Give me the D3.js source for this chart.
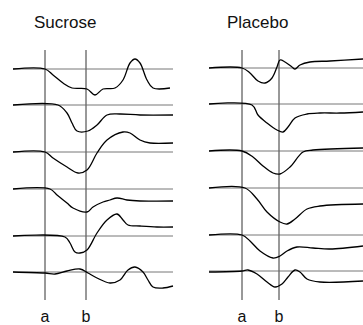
<!DOCTYPE html>
<html>
<head>
<meta charset="utf-8">
<script src="https://cdn.jsdelivr.net/npm/d3@7"></script>
<style>
  html, body { margin: 0; padding: 0; background: #fff; }
  svg { display: block; }
</style>
</head>
<body>
<script>
// ---------------- DATA ----------------
const panelTitles = ["Sucrose", "Placebo"];
const markerLabels = ["a", "b"];
// marker times (ms) for each panel
const sucroseMarkers = [160, 365];
const placeboMarkers = [165, 350];
// time span of each panel (ms)
const sucroseSpan = [0, 800];
const placeboSpan = [0, 770];

// traces: [time ms, deflection] pairs, deflection positive = up
const sucroseTraces = [
  [[0,0],[160,0],[200,-6],[250,-14],[295,-19],[370,-20],[410,-26],[450,-20],[510,-19],[550,-11],[585,6],[610,10],[635,6],[670,-11],[700,-19],[785,-19]],
  [[0,0],[225,0],[270,-8],[295,-18],[320,-26],[375,-26],[420,-20],[470,-10],[535,-9],[635,-10],[800,-10]],
  [[0,0],[160,0],[200,-6],[270,-15],[325,-21],[370,-18],[420,-1],[470,12],[550,20],[585,19],[635,12],[685,9],[800,9]],
  [[0,0],[185,0],[220,-6],[270,-14],[300,-19],[370,-23],[400,-18],[450,-13],[485,-11],[520,-9],[570,-11],[635,-12],[800,-12]],
  [[0,0],[260,-1],[285,-7],[310,-16],[335,-17],[370,-14],[420,3],[470,16],[520,22],[550,16],[575,11],[635,10],[720,9],[800,9]],
  [[0,0],[160,-1],[210,-2],[270,1],[335,3],[375,-1],[420,-6],[485,-11],[535,-8],[575,2],[610,5],[650,0],[675,-8],[700,-15],[750,-16],[800,-14]]
];
const placeboTraces = [
  [[0,0],[165,0],[205,-5],[245,-13],[280,-15],[315,-10],[340,1],[355,8],[380,6],[415,1],[430,-1],[455,3],[505,6],[605,7],[770,9]],
  [[0,0],[215,-1],[245,-11],[290,-19],[340,-26],[370,-28],[395,-23],[430,-14],[490,-10],[555,-9],[655,-9],[770,-8]],
  [[0,0],[165,0],[220,-6],[270,-15],[320,-22],[355,-23],[405,-16],[470,-1],[520,1],[770,3]],
  [[0,0],[180,0],[240,-11],[290,-24],[355,-34],[390,-36],[430,-31],[490,-21],[555,-18],[770,-16]],
  [[0,0],[165,0],[205,-6],[255,-16],[320,-23],[355,-21],[390,-16],[440,-12],[520,-13],[605,-14],[770,-11]],
  [[0,-1],[165,0],[195,1],[240,-3],[290,-11],[330,-16],[365,-13],[395,-6],[430,1],[455,-1],[490,-8],[555,-11],[770,-10]]
];

// ---------------- LAYOUT ----------------
const W = 363, H = 325;
const FONT = "'Liberation Sans', Arial, Helvetica, sans-serif";
const channelOffsets = [0, 36, 83, 120, 167, 203]; // vertical offset of each baseline (px)
const panels = [
  { title: panelTitles[0], traces: sucroseTraces, markers: sucroseMarkers, span: sucroseSpan,
    x0: 13, x1: 173, top: 69, titleX: 34, baseOff: [0,0,0,0,0,0] },
  { title: panelTitles[1], traces: placeboTraces, markers: placeboMarkers, span: placeboSpan,
    x0: 209, x1: 363, top: 68, titleX: 227, baseOff: [0,0,0,0,0,0] }
];

const svg = d3.select("body").append("svg")
  .attr("width", W).attr("height", H)
  .attr("viewBox", `0 0 ${W} ${H}`);
svg.append("rect").attr("width", W).attr("height", H).attr("fill", "#fff");

const yUnit = d3.scaleLinear().domain([0, 1]).range([0, -1]); // deflection -> px offset

panels.forEach(p => {
  const g = svg.append("g");
  const x = d3.scaleLinear().domain(p.span).range([p.x0, p.x1]);

  // title
  g.append("text")
    .attr("x", p.titleX).attr("y", 28)
    .attr("font-family", FONT).attr("font-size", 17)
    .attr("fill", "#111")
    .text(p.title);

  // vertical marker lines
  p.markers.forEach((m, i) => {
    g.append("line")
      .attr("x1", x(m)).attr("x2", x(m))
      .attr("y1", 50).attr("y2", 300)
      .attr("stroke", "#333").attr("stroke-width", 1);
    g.append("text")
      .attr("x", x(m)).attr("y", 322)
      .attr("text-anchor", "middle")
      .attr("font-family", FONT).attr("font-size", 16)
      .attr("fill", "#111")
      .text(markerLabels[i]);
  });

  // traces
  const line = d3.line().curve(d3.curveCatmullRom.alpha(0.5));
  p.traces.forEach((tr, i) => {
    const base = p.top + channelOffsets[i] + p.baseOff[i];
    g.append("line")
      .attr("x1", p.x0).attr("x2", p.x1)
      .attr("y1", base).attr("y2", base)
      .attr("stroke", "#666").attr("stroke-width", 0.9);
    g.append("path")
      .attr("d", line(tr.map(d => [x(d[0]), base + yUnit(d[1])])))
      .attr("fill", "none")
      .attr("stroke", "#000")
      .attr("stroke-width", 1.3)
      .attr("stroke-linejoin", "round");
  });
});
</script>
</body>
</html>
